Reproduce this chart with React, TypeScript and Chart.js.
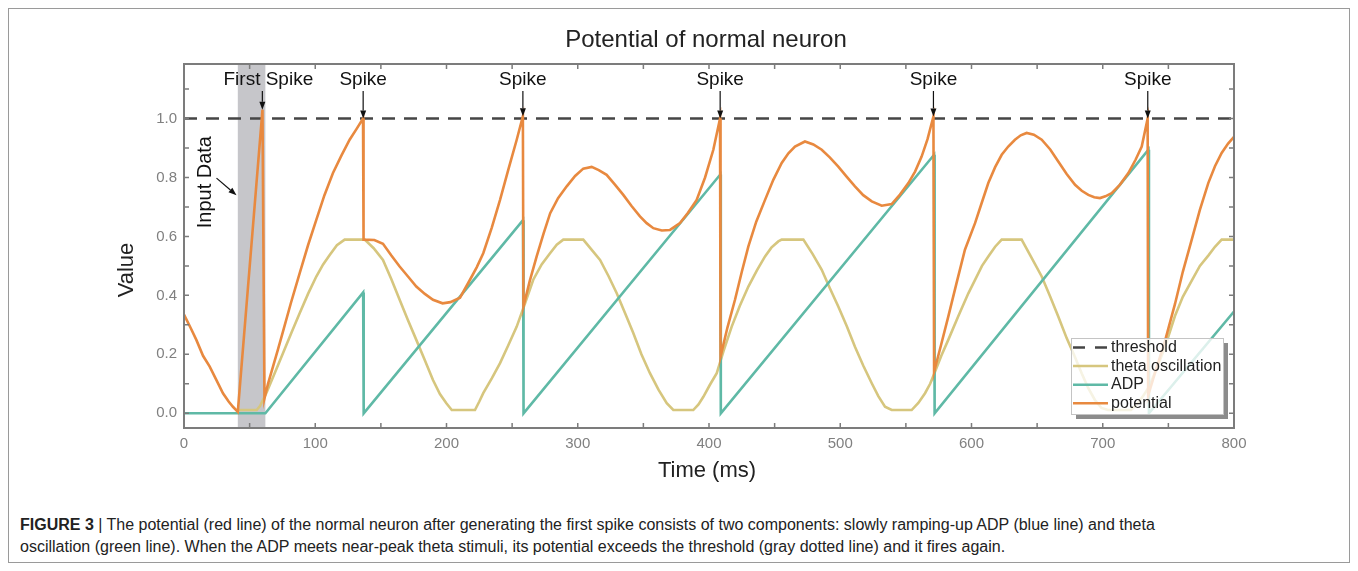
import React, { useEffect, useRef } from 'react';
import { Chart, registerables } from 'chart.js';

Chart.register(...registerables);

// ---------- data ----------
const potentialPoints: [number, number][] = [
  [0, 0.335], [5, 0.29], [9.4, 0.249], [14.5, 0.195], [19.6, 0.158], [25, 0.11], [29.7, 0.068], [34, 0.04], [37.3, 0.022], [41, 0.005],
  [59.8, 1.03], [61.3, 0.05],
  [64, 0.1], [67.8, 0.158], [71.5, 0.215], [75.4, 0.277], [81.5, 0.375], [88.1, 0.475], [94.5, 0.57], [100.8, 0.656], [107, 0.74], [113.5, 0.815], [120, 0.875], [126.2, 0.928], [131.5, 0.965], [136.4, 1.0],
  [136.8, 0.589], [145, 0.588], [151.6, 0.575], [158, 0.535], [164.3, 0.498], [170.5, 0.465], [177, 0.43], [183.5, 0.405], [189.7, 0.385], [197, 0.373], [203, 0.377], [210.3, 0.392], [217.9, 0.453], [223, 0.495], [228, 0.543], [234.5, 0.63], [240.8, 0.724], [247, 0.825], [253.5, 0.928], [258.2, 1.008],
  [258.6, 0.362], [263.5, 0.45], [268.7, 0.532], [274, 0.61], [279, 0.679], [285, 0.73], [291.6, 0.77], [298, 0.805], [304.2, 0.83], [310.6, 0.836], [316, 0.825], [322, 0.809], [328.5, 0.775], [334.7, 0.741], [341, 0.703], [347.4, 0.668], [352.5, 0.645], [357.6, 0.628], [364, 0.62], [370.3, 0.622], [377.9, 0.645], [384, 0.68], [390.6, 0.724], [397, 0.8], [403.3, 0.894], [408.4, 1.0],
  [408.8, 0.192], [414, 0.29], [419.8, 0.385], [425, 0.48], [430, 0.566], [436, 0.65], [442.7, 0.724], [449, 0.792], [455.4, 0.849], [460.5, 0.882], [465.5, 0.905], [473.1, 0.922], [479.5, 0.912], [485.9, 0.894], [492, 0.868], [498.5, 0.837], [505, 0.802], [511.2, 0.77], [517.5, 0.74], [524, 0.719], [531.6, 0.704], [539.2, 0.71], [545.5, 0.742], [551.9, 0.781], [557, 0.82], [562, 0.871], [566.5, 0.93], [571, 1.007],
  [571.5, 0.141], [577, 0.235], [582.3, 0.328], [588.5, 0.44], [595, 0.555], [602.7, 0.645], [607.5, 0.71], [612.8, 0.781], [618, 0.835], [623, 0.877], [628, 0.905], [633.1, 0.928], [637.5, 0.943], [642, 0.951], [647.5, 0.945], [653.5, 0.928], [660, 0.895], [666.1, 0.854], [672.5, 0.812], [678.9, 0.775], [684, 0.755], [689, 0.741], [693.5, 0.733], [697.9, 0.73], [702, 0.736], [706.8, 0.747], [713, 0.775], [719.5, 0.815], [725, 0.86], [729.7, 0.905], [734.2, 1.0],
  [734.6, 0.06], [740, 0.14], [747.4, 0.245], [755, 0.37], [761, 0.48], [767.8, 0.589], [774, 0.69], [780.4, 0.781], [785.5, 0.838], [790.6, 0.883], [795.5, 0.915], [800, 0.938],
];

const adpPoints: [number, number][] = [
  [0, 0], [62, 0], [136.5, 0.41], [136.9, 0], [258.3, 0.655], [258.7, 0], [408.6, 0.81], [409, 0],
  [571.5, 0.877], [571.9, 0], [734.8, 0.894], [735.2, 0], [800, 0.345],
];

const thetaPoints: [number, number][] = [
  [41, 0.011], [55.4, 0.011], [58, 0.025], [62.7, 0.068], [69, 0.135], [75.4, 0.204], [82, 0.275], [88.2, 0.34], [94.5, 0.405], [100.8, 0.464], [106, 0.505], [111, 0.537], [116.5, 0.57], [122.4, 0.589],
  [137.7, 0.589], [144.5, 0.56], [151.6, 0.52], [158, 0.455], [164.3, 0.385], [170.5, 0.317], [177, 0.249], [183.5, 0.18], [189.7, 0.113], [195, 0.065], [199.9, 0.034], [204, 0.011],
  [221.7, 0.011], [225, 0.04], [228, 0.068], [234.5, 0.118], [240.8, 0.17], [247, 0.23], [253.5, 0.294], [260, 0.375], [266.1, 0.453], [272.5, 0.505], [278.9, 0.543], [284, 0.572], [289, 0.589],
  [304.2, 0.589], [310.5, 0.555], [317, 0.52], [323.5, 0.465], [329.7, 0.407], [336, 0.34], [342.3, 0.272], [348.5, 0.2], [355, 0.136], [361.5, 0.08], [367.8, 0.034], [372.8, 0.011],
  [388, 0.011], [392, 0.03], [395.7, 0.056], [400.5, 0.095], [405.9, 0.136], [411, 0.21], [417.3, 0.294], [423.5, 0.365], [430, 0.43], [436.5, 0.485], [442.7, 0.532], [447.5, 0.562], [452.8, 0.583], [455.4, 0.589],
  [471.9, 0.589], [479, 0.54], [485.9, 0.487], [492, 0.425], [498.5, 0.362], [505, 0.295], [511.2, 0.226], [517.5, 0.162], [524, 0.102], [529, 0.058], [534.1, 0.022], [539.2, 0.011],
  [554.4, 0.011], [559.5, 0.035], [564.6, 0.068], [568.5, 0.1], [572.2, 0.141], [577, 0.195], [582.3, 0.249], [590, 0.33], [597.6, 0.407], [603, 0.455], [608, 0.5], [612.8, 0.532], [618, 0.565], [623, 0.589],
  [638.2, 0.589], [645.5, 0.53], [653.5, 0.464], [660, 0.395], [666.1, 0.328], [672.5, 0.255], [678.9, 0.19], [684, 0.135], [689, 0.085], [694, 0.045], [699, 0.018], [704, 0.011],
  [721.5, 0.011], [726, 0.03], [731, 0.06], [735.3, 0.09], [740, 0.14], [747.4, 0.225], [755, 0.33], [761, 0.395], [767.8, 0.45], [774, 0.5], [780.4, 0.535], [785.5, 0.565], [790.6, 0.589], [800, 0.589],
];

const thresholdPoints: [number, number][] = [[0, 1], [800, 1]];

const xTickValues = [0, 100, 200, 300, 400, 500, 600, 700, 800];
const yTickValues = [0, 0.2, 0.4, 0.6, 0.8, 1.0];
const xTickMarks = [50, 100, 150, 200, 250, 300, 350, 400, 450, 500, 550, 600, 650, 700, 750];
const yTickMarks = [0, 0.1, 0.2, 0.3, 0.4, 0.5, 0.6, 0.7, 0.8, 0.9, 1.0, 1.1];

const inputWindow = [41, 62];
const spikeTimes = [59.7, 136.5, 258.2, 408.5, 571, 734.3];
const spikePeaks = [1.03, 1.0, 1.008, 1.0, 1.007, 1.0];
const spikeLabels = ['First Spike', 'Spike', 'Spike', 'Spike', 'Spike', 'Spike'];
const inputArrowTarget = [40, 0.74];

const legendLabels = ['threshold', 'theta oscillation', 'ADP', 'potential'];

// ---------- styles ----------
const FONT = "'Liberation Sans', Arial, Helvetica, sans-serif";
const ORANGE = '#e8893f';
const TEAL = '#5fb9a6';
const THETA = '#d6c67e';
const DARK = '#454545';
const AXIS = '#7c7c7c';

function drawArrow(ctx: CanvasRenderingContext2D, x0: number, y0: number, x1: number, y1: number, head = 8, halfW = 3.2) {
  const dx = x1 - x0, dy = y1 - y0;
  const len = Math.hypot(dx, dy);
  const ux = dx / len, uy = dy / len;
  const bx = x1 - ux * head, by = y1 - uy * head;
  ctx.beginPath();
  ctx.moveTo(x0, y0);
  ctx.lineTo(bx, by);
  ctx.stroke();
  ctx.beginPath();
  ctx.moveTo(x1, y1);
  ctx.lineTo(bx - uy * halfW, by + ux * halfW);
  ctx.lineTo(bx + uy * halfW, by - ux * halfW);
  ctx.closePath();
  ctx.fill();
}

const figurePlugin = {
  id: 'figurePlugin',
  beforeDatasetsDraw(chart: any) {
    const { ctx, chartArea, scales } = chart;
    const xs = scales.x;
    ctx.save();
    ctx.fillStyle = '#c6c6ca';
    const x0 = xs.getPixelForValue(inputWindow[0]);
    const x1 = xs.getPixelForValue(inputWindow[1]);
    ctx.fillRect(x0, chartArea.top, x1 - x0, chartArea.bottom - chartArea.top);
    ctx.restore();
  },
  afterDraw(chart: any) {
    const { ctx, chartArea, scales } = chart;
    const xs = scales.x, ys = scales.y;
    const { left, right, top, bottom } = chartArea;
    ctx.save();

    // axes box
    ctx.strokeStyle = AXIS;
    ctx.lineWidth = 2;
    ctx.strokeRect(left, top, right - left, bottom - top);
    // inward tick marks, mirrored
    ctx.lineWidth = 1.5;
    ctx.beginPath();
    for (const v of xTickMarks) {
      const px = xs.getPixelForValue(v);
      ctx.moveTo(px, bottom); ctx.lineTo(px, bottom - 5);
      ctx.moveTo(px, top); ctx.lineTo(px, top + 5);
    }
    for (const v of yTickMarks) {
      const py = ys.getPixelForValue(v);
      ctx.moveTo(left, py); ctx.lineTo(left + 5, py);
      ctx.moveTo(right, py); ctx.lineTo(right - 5, py);
    }
    ctx.stroke();

    // titles
    ctx.fillStyle = '#222';
    ctx.textAlign = 'center';
    ctx.textBaseline = 'middle';
    ctx.font = `24px ${FONT}`;
    ctx.fillText('Potential of normal neuron', (left + right) / 2 - 3, 31);
    ctx.font = `22px ${FONT}`;
    ctx.fillText('Time (ms)', (left + right) / 2 - 2, 462);
    ctx.save();
    ctx.translate(118, (top + bottom) / 2 + 24);
    ctx.rotate(-Math.PI / 2);
    ctx.fillText('Value', 0, 0);
    ctx.restore();

    // spike annotations
    ctx.fillStyle = '#111';
    ctx.strokeStyle = '#111';
    ctx.lineWidth = 1.2;
    ctx.font = `19px ${FONT}`;
    spikeTimes.forEach((t, i) => {
      const px = xs.getPixelForValue(t);
      const py = ys.getPixelForValue(spikePeaks[i]);
      const dx = i === 0 ? 6 : 0;
      ctx.fillText(spikeLabels[i], px + dx, 71);
      drawArrow(ctx, px, 82, px, py, 8, 3);
    });

    // input data annotation
    const tx = xs.getPixelForValue(inputArrowTarget[0]);
    const ty = ys.getPixelForValue(inputArrowTarget[1]);
    drawArrow(ctx, tx - 20, ty - 17, tx, ty, 8, 3);
    ctx.save();
    ctx.translate(tx - 31, ty - 13);
    ctx.rotate(-Math.PI / 2);
    ctx.font = `20px ${FONT}`;
    ctx.fillText('Input Data', 0, 0);
    ctx.restore();

    // legend
    const lx = right - 163, ly = bottom - 90, lw = 152, lh = 76;
    ctx.fillStyle = '#8c8c8c';
    ctx.fillRect(lx + lw, ly + 5, 5, lh);
    ctx.fillRect(lx + 5, ly + lh, lw, 5);
    ctx.fillStyle = 'rgba(255,255,255,0.78)';
    ctx.fillRect(lx, ly, lw, lh);
    ctx.strokeStyle = '#c4c4c4';
    ctx.lineWidth = 1;
    ctx.strokeRect(lx + 0.5, ly + 0.5, lw, lh);
    const colors = [DARK, THETA, TEAL, ORANGE];
    ctx.font = `16px ${FONT}`;
    ctx.textAlign = 'left';
    legendLabels.forEach((lab, i) => {
      const ry = ly + 9.5 + i * 18.6;
      ctx.strokeStyle = colors[i];
      ctx.lineWidth = 2.5;
      ctx.setLineDash(i === 0 ? [12, 10] : []);
      ctx.beginPath();
      ctx.moveTo(lx + 2, ry);
      ctx.lineTo(lx + 37, ry);
      ctx.stroke();
      ctx.setLineDash([]);
      ctx.fillStyle = '#222';
      ctx.fillText(lab, lx + 40, ry);
    });

    ctx.restore();
  },
};

const toXY = (pts: [number, number][]) => pts.map(([x, y]) => ({ x, y }));

export default function App() {
  const canvasRef = useRef<HTMLCanvasElement | null>(null);

  useEffect(() => {
    if (!canvasRef.current) return;
    const chart = new Chart(canvasRef.current, {
      type: 'line',
      data: {
        datasets: [
          { label: 'potential', data: toXY(potentialPoints), borderColor: ORANGE, borderWidth: 2.6, pointRadius: 0, tension: 0, fill: false },
          { label: 'ADP', data: toXY(adpPoints), borderColor: TEAL, borderWidth: 2.6, pointRadius: 0, tension: 0, fill: false },
          { label: 'theta oscillation', data: toXY(thetaPoints), borderColor: THETA, borderWidth: 2.6, pointRadius: 0, tension: 0, fill: false },
          { label: 'threshold', data: toXY(thresholdPoints), borderColor: DARK, borderWidth: 2.6, borderDash: [13, 9], pointRadius: 0, tension: 0, fill: false },
        ],
      },
      options: {
        animation: false,
        responsive: false,
        maintainAspectRatio: false,
        layout: { padding: { top: 55, right: 115, left: 0, bottom: 0 } },
        plugins: { legend: { display: false }, title: { display: false }, tooltip: { enabled: false } },
        scales: {
          x: {
            type: 'linear', min: 0, max: 800,
            grid: { display: false, drawTicks: false },
            border: { display: false },
            ticks: { padding: 7, color: '#808080', font: { family: FONT, size: 15 }, maxRotation: 0, autoSkip: false, callback: (v: any) => String(v) },
            afterBuildTicks: (s: any) => { s.ticks = xTickValues.map((v) => ({ value: v })); },
            afterFit: (s: any) => { s.height = 61; },
          },
          y: {
            type: 'linear', min: -0.05, max: 1.185,
            grid: { display: false, drawTicks: false },
            border: { display: false },
            ticks: { padding: 7, color: '#808080', font: { family: FONT, size: 15 }, autoSkip: false, callback: (v: any) => Number(v).toFixed(1) },
            afterBuildTicks: (s: any) => { s.ticks = yTickValues.map((v) => ({ value: v })); },
            afterFit: (s: any) => { s.width = 175; },
          },
        },
      },
      plugins: [figurePlugin],
    });
    return () => chart.destroy();
  }, []);

  return (
    <div style={{ position: 'relative', width: 1340, height: 553, border: '1px solid #9a9a9a', background: '#fff' }}>
      <canvas ref={canvasRef} width={1340} height={480} style={{ display: 'block' }} />
      <div style={{ position: 'absolute', left: 11, top: 505, fontFamily: FONT, fontSize: 16, lineHeight: '22px', color: '#222', whiteSpace: 'nowrap' }}>
        <b>FIGURE 3</b> | The potential (red line) of the normal neuron after generating the first spike consists of two components: slowly ramping-up ADP (blue line) and theta
        <br />
        oscillation (green line). When the ADP meets near-peak theta stimuli, its potential exceeds the threshold (gray dotted line) and it fires again.
      </div>
    </div>
  );
}
